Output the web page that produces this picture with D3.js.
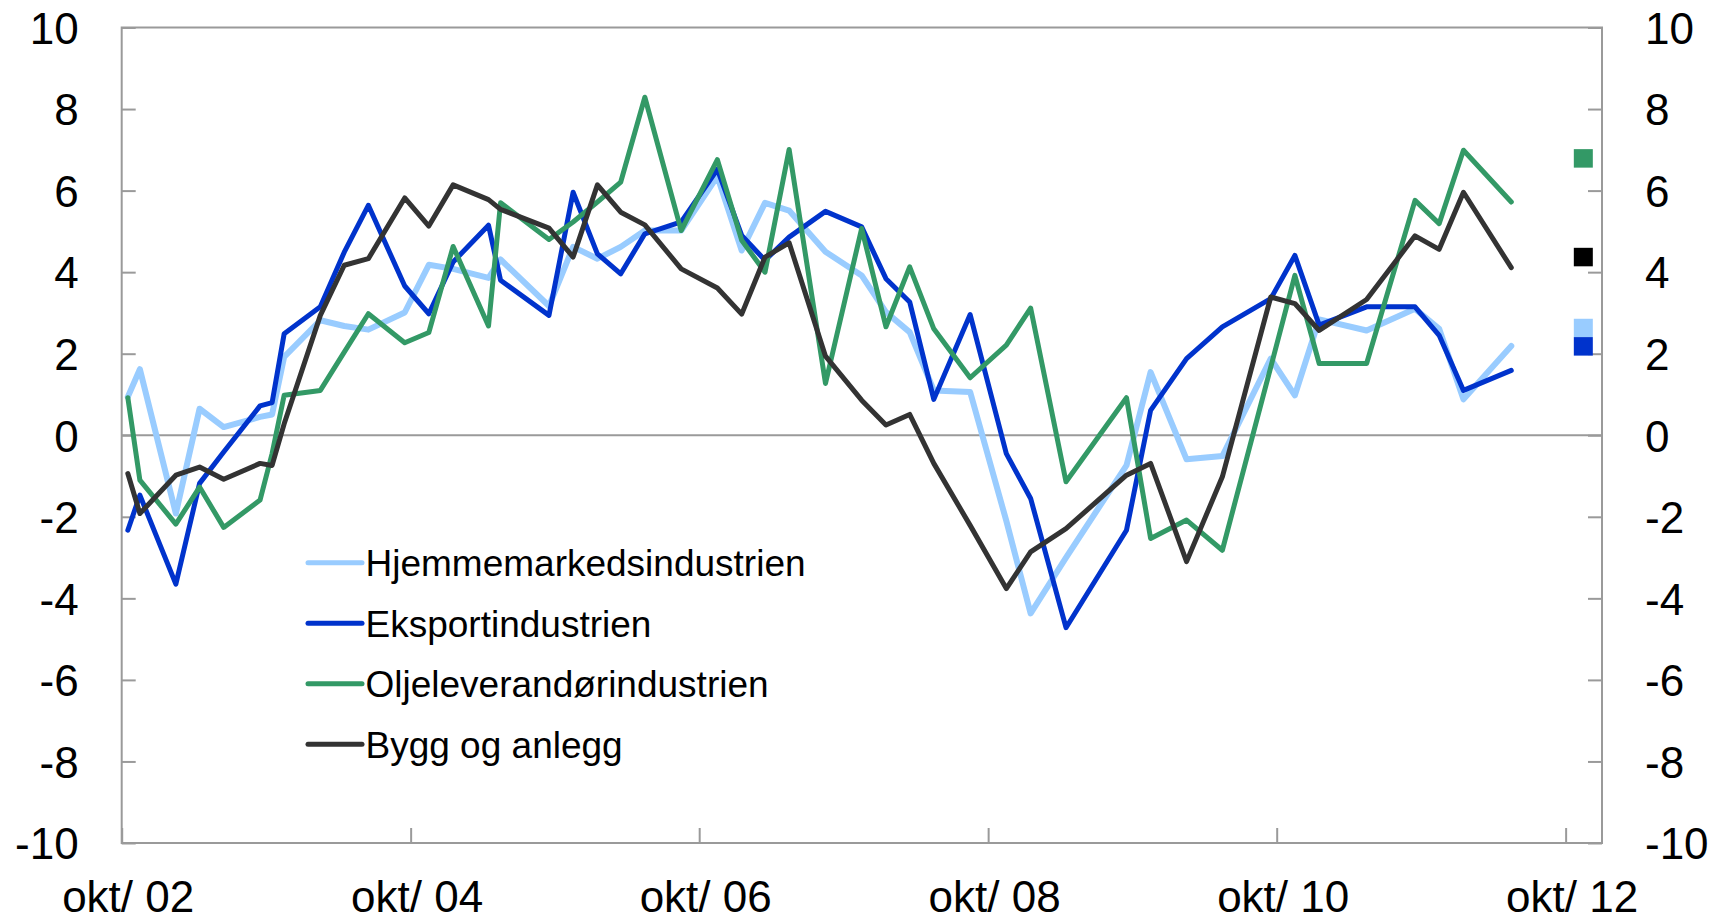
<!DOCTYPE html>
<html>
<head>
<meta charset="utf-8">
<script src="https://cdn.jsdelivr.net/npm/d3@7"></script>
<style>
  body { margin: 0; background: #fff; }
  text { font-family: "Liberation Sans", Arial, sans-serif; fill: #000; }
</style>
</head>
<body>
<div id="chart"></div>
<script>
// survey months (x values)
const months = ["2002-10","2002-11","2003-02","2003-04","2003-06","2003-09","2003-10","2003-11",
  "2004-02","2004-04","2004-06","2004-09","2004-11","2005-01","2005-04","2005-05","2005-09",
  "2005-11","2006-01","2006-03","2006-05","2006-08","2006-11","2007-01","2007-03","2007-05",
  "2007-08","2007-11","2008-01","2008-03","2008-05","2008-08","2008-11","2009-01","2009-04",
  "2009-09","2009-11","2010-02","2010-05","2010-09","2010-11","2011-01","2011-05","2011-09",
  "2011-11","2012-01","2012-05"];

// series values
const hjemme = [0.94, 1.62, -1.92, 0.65, 0.20, 0.45, 0.51, 1.92, 2.82, 2.68, 2.59, 3.01, 4.18, 4.08,
  3.86, 4.31, 3.17, 4.62, 4.33, 4.62, 5.02, 5.02, 6.35, 4.53, 5.70, 5.51, 4.50, 3.92, 3.02, 2.53,
  1.10, 1.06, -2.10, -4.37, -3.00, -0.74, 1.55, -0.59, -0.51, 1.88, 0.98, 2.84, 2.57, 3.10, 2.61,
  0.88, 2.19];
const eksport = [-2.33, -1.47, -3.65, -1.18, -0.41, 0.72, 0.80, 2.49, 3.15, 4.49, 5.64, 3.66, 2.98,
  4.25, 5.15, 3.80, 2.94, 5.96, 4.45, 3.96, 4.94, 5.23, 6.52, 4.90, 4.29, 4.86, 5.49, 5.11, 3.84,
  3.27, 0.88, 2.96, -0.45, -1.55, -4.72, -2.33, 0.61, 1.88, 2.66, 3.35, 4.41, 2.70, 3.15, 3.15,
  2.45, 1.10, 1.59];
const olje = [0.92, -1.10, -2.18, -1.27, -2.26, -1.59, -0.45, 0.98, 1.10, 2.04, 2.98, 2.27, 2.52,
  4.63, 2.68, 5.70, 4.80, 5.23, 5.72, 6.21, 8.29, 5.02, 6.76, 4.78, 4.00, 7.01, 1.27, 5.07, 2.66,
  4.13, 2.61, 1.41, 2.21, 3.12, -1.14, 0.92, -2.53, -2.08, -2.82, 1.67, 3.92, 1.76, 1.76, 5.76,
  5.19, 6.99, 5.72];
const bygg = [-0.94, -1.92, -0.98, -0.78, -1.08, -0.69, -0.74, 0.28, 2.94, 4.17, 4.33, 5.82, 5.13,
  6.14, 5.78, 5.54, 5.08, 4.37, 6.14, 5.47, 5.16, 4.08, 3.61, 2.97, 4.37, 4.72, 1.94, 0.86, 0.25,
  0.51, -0.69, -2.21, -3.76, -2.86, -2.29, -0.98, -0.69, -3.10, -1.02, 3.39, 3.23, 2.57, 3.33,
  4.89, 4.56, 5.96, 4.11];

const seriesNames = ["Hjemmemarkedsindustrien", "Eksportindustrien", "Oljeleverandørindustrien", "Bygg og anlegg"];
// expected values, shown as squares to the right
const expectedMonth = "2012-11";
const expected = [2.63, 2.18, 6.79, 4.37];

const yTicks = [-10, -8, -6, -4, -2, 0, 2, 4, 6, 8, 10];
const xTickYears = [2002, 2004, 2006, 2008, 2010, 2012];

const lineColors = ["#99ccff", "#0033cc", "#339966", "#333333"];
const squareColors = ["#99ccff", "#0033cc", "#339966", "#000000"];
const lineWidths = [6, 5, 5, 5];

// dimensions
const W = 1733, H = 923;
const margin = {top: 27.5, right: 131, bottom: 80, left: 121.7};
const width = W - margin.left - margin.right,
    height = H - margin.top - margin.bottom;
const axisGrey = "#9a9a9a";

const svg = d3.select("#chart")
    .append("svg")
    .attr("width", W)
    .attr("height", H);
const g = svg.append("g")
    .attr("transform", `translate(${margin.left},${margin.top})`);

const parse = d3.timeParse("%Y-%m");
const mid = s => {
    const d = parse(s);
    return new Date((+d + +d3.timeMonth.offset(d, 1)) / 2);
};

const x = d3.scaleTime()
    .domain([new Date(2002, 9, 1), new Date(2013, 0, 1)])
    .range([0, width]);
const y = d3.scaleLinear()
    .domain([-10, 10])
    .range([height, 0]);

// zero line
g.append("line")
    .attr("x1", 0).attr("x2", width)
    .attr("y1", y(0)).attr("y2", y(0))
    .attr("stroke", axisGrey)
    .attr("stroke-width", 2);

// left axis
g.append("g")
    .call(d3.axisLeft(y).tickValues(yTicks).tickFormat(d => String(d))
        .tickSizeInner(-14).tickSizeOuter(0).tickPadding(43))
    .call(a => a.select(".domain").remove())
    .call(a => a.selectAll("line").attr("stroke", axisGrey).attr("stroke-width", 2))
    .call(a => a.selectAll("text").attr("font-size", 44).attr("dy", "0.36em")
        .attr("font-family", "Liberation Sans, Arial, sans-serif"));

// right axis
g.append("g")
    .attr("transform", `translate(${width},0)`)
    .call(d3.axisRight(y).tickValues(yTicks).tickFormat(d => String(d))
        .tickSizeInner(-14).tickSizeOuter(0).tickPadding(43))
    .call(a => a.select(".domain").remove())
    .call(a => a.selectAll("line").attr("stroke", axisGrey).attr("stroke-width", 2))
    .call(a => a.selectAll("text").attr("font-size", 44).attr("dy", "0.36em")
        .attr("font-family", "Liberation Sans, Arial, sans-serif"));

// bottom axis
g.append("g")
    .attr("transform", `translate(0,${height})`)
    .call(d3.axisBottom(x).tickValues(xTickYears.map(yr => new Date(yr, 9, 1)))
        .tickFormat(d => "okt/ " + d3.timeFormat("%y")(d))
        .tickSizeInner(-15).tickSizeOuter(0))
    .call(a => a.select(".domain").remove())
    .call(a => a.selectAll("line").attr("stroke", axisGrey).attr("stroke-width", 2))
    .call(a => a.selectAll("text").attr("font-size", 44).attr("dy", null)
        .attr("y", 69).attr("x", 6)
        .attr("font-family", "Liberation Sans, Arial, sans-serif"));

// frame
g.append("rect")
    .attr("x", 0).attr("y", 0)
    .attr("width", width).attr("height", height)
    .attr("fill", "none")
    .attr("stroke", axisGrey)
    .attr("stroke-width", 2);

// lines
const allSeries = [hjemme, eksport, olje, bygg];
const line = d3.line()
    .x((d, i) => x(mid(months[i])))
    .y(d => y(d));

allSeries.forEach((s, k) => {
    g.append("path")
        .datum(s)
        .attr("fill", "none")
        .attr("stroke", lineColors[k])
        .attr("stroke-width", lineWidths[k])
        .attr("stroke-linejoin", "round")
        .attr("stroke-linecap", "round")
        .attr("d", line);
});

// expected-value squares
const sq = 18.5;
g.selectAll("rect.expected")
    .data(expected)
    .enter()
    .append("rect")
    .attr("class", "expected")
    .attr("x", x(mid(expectedMonth)) - 10)
    .attr("y", d => y(d) - sq / 2)
    .attr("width", 19)
    .attr("height", sq)
    .attr("fill", (d, i) => squareColors[i]);

// legend
const legend = svg.append("g")
    .attr("transform", "translate(308,562.7)");
seriesNames.forEach((name, k) => {
    const row = legend.append("g").attr("transform", `translate(0,${k * 60.5})`);
    row.append("line")
        .attr("x1", 0).attr("x2", 54)
        .attr("stroke", lineColors[k])
        .attr("stroke-width", 5)
        .attr("stroke-linecap", "round");
    row.append("text")
        .attr("x", 57.5)
        .attr("dy", "0.36em")
        .attr("font-size", 37)
        .text(name);
});
</script>
</body>
</html>
